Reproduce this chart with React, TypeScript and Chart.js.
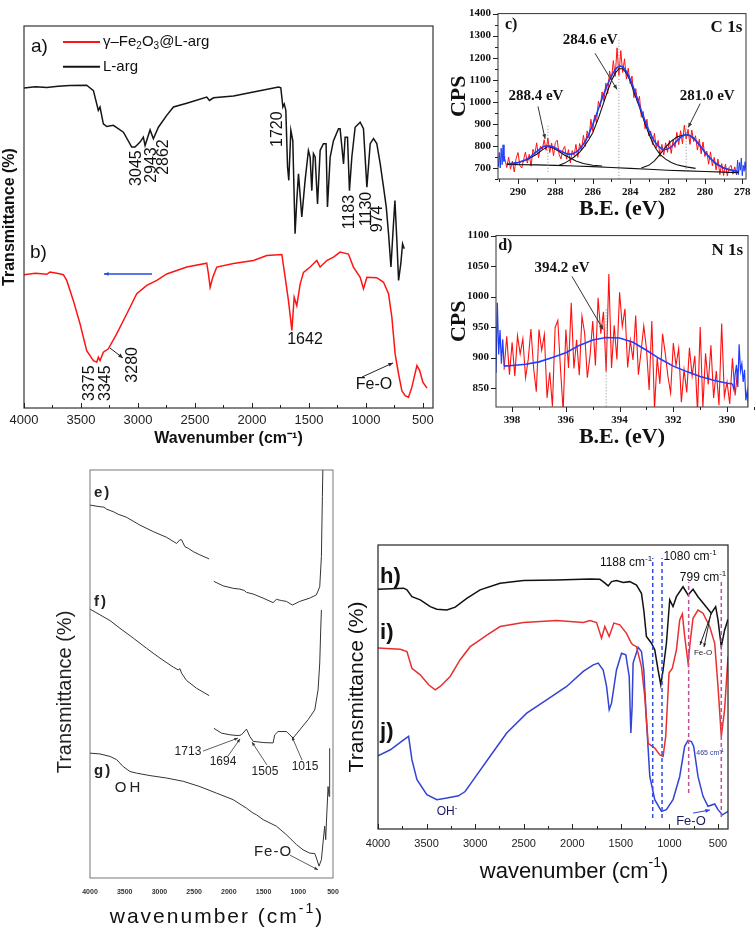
import React, { useEffect, useRef } from "react";
import { Chart, registerables } from "chart.js";
Chart.register(...registerables);

const SANS = 'Arial, "Liberation Sans", Helvetica, sans-serif';
const SERIF = '"Times New Roman", "Liberation Serif", Times, serif';

// ---------------- Panel a/b (FTIR) ----------------
const FTIR_TICKS = [500, 1000, 1500, 2000, 2500, 3000, 3500, 4000];
const FTIR_MINOR = [750, 1250, 1750, 2250, 2750, 3250, 3750];
const L_ARG = [
  [4000, 83.8], [3900, 84.1], [3800, 83.9], [3700, 84.2], [3600, 84.4], [3450, 84.5], [3391, 83.1], [3362, 79.6],
  [3348, 77.9], [3333, 78.8], [3304, 74.4], [3274, 73.7], [3216, 74.0], [3128, 72.2], [3055, 68.3], [3026, 68.3],
  [2982, 69.6], [2953, 70.9], [2938, 68.7], [2894, 72.8], [2865, 70.5], [2821, 73.5], [2748, 76.6], [2689, 78.8],
  [2572, 79.8], [2397, 81.4], [2373, 80.5], [2338, 81.2], [2162, 81.7], [1987, 82.7], [1767, 84.0], [1747, 83.8],
  [1729, 78.8], [1717, 79.6], [1703, 77.9], [1688, 63.1], [1677, 59.6], [1659, 72.7], [1642, 70.0], [1622, 45.6],
  [1607, 54.3], [1592, 61.3], [1563, 50.0], [1534, 59.6], [1505, 67.4], [1490, 65.7], [1475, 56.9], [1461, 66.6],
  [1446, 65.7], [1425, 53.4], [1402, 67.4], [1388, 68.3], [1373, 69.2], [1350, 69.2], [1338, 52.6], [1314, 65.7],
  [1285, 70.0], [1241, 73.1], [1227, 73.1], [1197, 63.9], [1183, 70.9], [1162, 70.9], [1145, 56.9], [1124, 65.7],
  [1095, 73.5], [1051, 74.8], [1022, 73.1], [992, 57.8], [963, 69.2], [934, 70.5], [905, 69.2], [875, 63.9],
  [846, 57.8], [822, 52.6], [802, 45.6], [781, 36.9], [764, 45.6], [746, 54.3], [729, 43.8], [714, 33.4],
  [694, 37.9], [679, 43.0], [664, 41.7],
];
const FE_L_ARG = [
  [4000, 34.9], [3900, 35.3], [3800, 35.0], [3772, 35.6], [3700, 35.2], [3655, 34.9], [3625, 33.4], [3567, 28.1],
  [3508, 22.0], [3450, 15.0], [3391, 12.4], [3362, 12.0], [3348, 13.3], [3333, 12.4], [3304, 14.6], [3260, 15.5],
  [3187, 19.4], [3099, 24.6], [3011, 29.9], [2923, 32.1], [2835, 33.4], [2748, 35.1], [2572, 36.9], [2397, 37.9],
  [2382, 35.1], [2367, 31.6], [2344, 34.2], [2309, 36.9], [2162, 37.8], [1987, 38.6], [1870, 39.9], [1738, 40.2],
  [1709, 34.2], [1680, 28.1], [1650, 20.3], [1630, 29.0], [1607, 26.8], [1577, 32.5], [1548, 35.5], [1490, 36.9],
  [1431, 38.6], [1402, 36.9], [1344, 38.6], [1285, 39.5], [1227, 40.8], [1154, 40.3], [1110, 36.9], [1051, 34.2],
  [1022, 31.2], [992, 34.2], [905, 34.1], [846, 32.9], [802, 29.9], [773, 23.8], [744, 14.1], [714, 8.9],
  [685, 4.5], [656, 3.2], [627, 2.8], [598, 5.4], [553, 11.1], [529, 9.8], [500, 6.7], [465, 5.2],
];

// ---------------- Panel c (C 1s) ----------------
const C1S_X_TICKS = [278, 280, 282, 284, 286, 288, 290];
const C1S_X_MINOR = [279, 281, 283, 285, 287, 289, 291];
const C1S_Y_TICKS = [700, 800, 900, 1000, 1100, 1200, 1300, 1400];
const C1S_Y_MINOR = [650, 750, 850, 950, 1050, 1150, 1250, 1350];
const C1S_RED_START = 290.7;
const C1S_STEP = -0.1;
const C1S_RED = [
  740, 702,
  749, 695, 731, 682, 743, 770, 712, 700, 738, 772,
  722, 762, 708, 785, 762, 814, 746, 798, 784, 828,
  780, 836, 770, 813, 755, 816, 826, 761, 741, 782,
  798, 740, 783, 723, 779, 757, 807, 748, 811, 781,
  848, 797, 868, 836, 921, 867, 940, 903, 1002, 976,
  1045, 1003, 1085, 1036, 1140, 1097, 1187, 1115, 1245, 1120,
  1232, 1133, 1195, 1103, 1152, 1083, 1117, 1019, 1060, 995,
  1025, 930, 956, 878, 921, 846, 868, 806, 857, 790,
  825, 752, 807, 759, 814, 771, 825, 766, 829, 793,
  862, 806, 869, 810, 894, 831, 875, 807, 872, 820,
  846, 781, 830, 764, 818, 752, 777, 717, 773, 710,
  748, 691, 740, 670, 720, 666, 718, 665, 703,
  712, 672, 705, 668,
];
const C1S_FIT_START = 290.5;
const C1S_FIT = [
  719, 720, 721, 722, 723, 725,
  727, 730, 733, 737, 742, 747, 753, 760, 767, 774,
  781, 788, 794, 798, 800, 801, 800, 798, 795, 791,
  786, 781, 776, 772, 768, 765, 763, 763, 764, 767,
  772, 778, 786, 796, 808, 822, 838, 856, 876, 897,
  920, 943, 967, 991, 1015, 1038, 1060, 1081, 1100, 1117,
  1132, 1145, 1155, 1160, 1162, 1158, 1150, 1138, 1122, 1103,
  1082, 1059, 1035, 1010, 985, 960, 936, 913, 891, 871,
  853, 836, 822, 810, 800, 792, 787, 784, 784, 786,
  790, 796, 804, 813, 822, 831, 839, 845, 849, 851,
  850, 847, 842, 835, 826, 816, 805, 794, 783, 772,
  762, 752, 743, 735, 728, 721, 715, 710, 705, 701,
  698, 695, 693, 691, 689, 687, 685, 684,
];
const C1S_BLUE_L_START = 291.05;
const C1S_BLUE_R_START = 278.3;
const C1S_EDGE_STEP = -0.05;
const C1S_BLUE_L = [705, 770, 700, 790, 715, 805, 730, 752];
const C1S_BLUE_R = [668, 735, 670, 725, 690, 745, 665, 712, 685, 728, 690];
const C1S_PEAK1 = [
  [290.6, 718], [290, 724], [289.5, 738], [289, 762], [288.7, 782], [288.4, 797], [288.1, 790], [287.8, 775],
  [287.5, 758], [287.2, 745], [286.9, 732], [286.5, 720], [286, 712], [285.5, 709],
];
const C1S_PEAK2 = [
  [287.8, 712], [287.5, 722], [287.2, 738], [287, 750], [286.7, 772], [286.5, 792], [286.2, 830], [286, 860],
  [285.7, 925], [285.5, 975], [285.2, 1050], [285, 1095], [284.8, 1130], [284.6, 1150], [284.4, 1150], [284.2, 1130],
  [284, 1095], [283.8, 1045], [283.5, 975], [283.2, 900], [283, 855], [282.8, 815], [282.6, 785], [282.4, 762],
  [282.1, 740], [281.8, 725], [281.5, 715], [281, 705], [280.5, 698],
];
const C1S_PEAK3 = [
  [283.4, 700], [283, 712], [282.7, 732], [282.4, 762], [282.1, 795], [281.8, 822], [281.5, 840], [281.2, 848],
  [281, 850], [280.8, 846], [280.5, 826], [280.2, 795], [280, 772], [279.7, 742], [279.4, 718], [279, 700],
  [278.6, 690], [278.2, 684],
];
const C1S_BASE = [
  [290.6, 716], [289, 714], [288, 712], [287, 709], [286, 706], [285, 702], [284, 698], [283, 694],
  [282, 690], [281, 687], [280, 684], [279, 681], [278.2, 679],
];

// ---------------- Panel d (N 1s) ----------------
const N1S_X_TICKS = [390, 392, 394, 396, 398];
const N1S_X_MINOR = [389, 391, 393, 395, 397];
const N1S_Y_TICKS = [850, 900, 950, 1000, 1050, 1100];
const N1S_RED_START = 398.3;
const N1S_STEP = -0.1;
const N1S_RED = [
  880, 935, 872, 925, 870,
  936, 906, 931, 867, 897, 947, 883, 844, 946, 912,
  938, 834, 876, 820, 949, 961, 882, 812, 946, 883,
  990, 882, 929, 871, 968, 940, 867, 903, 960, 887,
  998, 939, 975, 877, 1037, 883, 953, 897, 1007, 951,
  980, 884, 928, 896, 969, 872, 910, 952, 915, 847,
  960, 816, 900, 857, 939, 907, 869, 842, 924, 887,
  915, 827, 880, 843, 916, 870, 903, 811, 950, 818,
  907, 856, 920, 834, 878, 822, 956, 836, 860, 824,
  899, 838, 882,
];
const N1S_FIT = [
  [398.3, 886], [398, 887], [397.5, 889], [397, 893], [396.5, 900], [396, 908], [395.5, 920], [395, 929],
  [394.5, 933], [394, 932], [393.5, 925], [393, 912], [392.5, 898], [392, 886], [391.5, 877], [391, 869],
  [390.5, 863], [390, 858], [389.8, 857],
];
const N1S_BLUE_L_START = 398.6;
const N1S_BLUE_R_START = 389.8;
const N1S_EDGE_STEP = -0.05;
const N1S_BLUE_L = [875, 990, 905, 945, 890, 930, 886];
const N1S_BLUE_R = [857, 848, 872, 888, 852, 922, 878, 890, 860, 880, 830, 845, 815];

// ---------------- Panel e/f/g ----------------
const E_LEFT = [
  [4000, 91.4], [3856, 91.0], [3800, 90.9], [3760, 90.4], [3700, 90.0], [3664, 89.8], [3600, 89.2], [3568, 89.0],
  [3473, 88.4], [3281, 86.5], [3089, 84.9], [2897, 83.5], [2753, 82.0], [2705, 82.9], [2681, 82.9], [2633, 81.2],
  [2585, 80.8], [2513, 80.0], [2417, 79.2], [2283, 78.2],
];
const E_RIGHT = [
  [2216, 72.7], [2082, 71.6], [1938, 71.0], [1842, 70.8], [1780, 70.5], [1746, 70.0], [1650, 69.6], [1507, 68.6],
  [1363, 67.5], [1315, 68.3], [1243, 68.0], [1171, 67.8], [1085, 66.9], [979, 67.8], [835, 68.6], [739, 69.4],
  [691, 71.4], [667, 78.8], [653, 93.5], [644, 102],
];
const F_LEFT = [
  [4000, 65.9], [3856, 64.5], [3712, 63.1], [3568, 61.2], [3377, 58.8], [3185, 56.3], [2993, 53.9], [2801, 51.7],
  [2729, 51.0], [2705, 51.3], [2681, 50.2], [2609, 48.4], [2465, 46.5], [2283, 44.7],
];
const F_RIGHT = [
  [2216, 36.7], [2106, 35.5], [1986, 35.1], [1866, 34.9], [1818, 35.1], [1746, 36.5], [1698, 34.7], [1650, 33.5],
  [1507, 33.2], [1363, 33.1], [1339, 35.1], [1291, 35.9], [1171, 35.9], [1075, 34.3], [979, 36.3], [859, 38.8],
  [763, 41.2], [715, 46.1], [691, 52.7], [677, 60.8], [667, 65.7],
];
const G_CURVE = [
  [4000, 30.6], [3856, 30.4], [3712, 29.8], [3616, 29.0], [3521, 27.3], [3425, 26.1], [3329, 25.7], [3137, 25.1],
  [2897, 24.5], [2657, 23.7], [2417, 22.4], [2178, 20.8], [1938, 19.2], [1746, 17.1], [1650, 15.9], [1602, 15.5],
  [1507, 14.3], [1315, 12.7], [1171, 10.6], [1027, 8.2], [931, 6.9], [835, 6.1], [763, 6.0], [739, 4.9],
  [701, 2.9], [667, 4.5], [644, 8.6], [620, 12.7], [605, 9.4], [595, 13.5], [571, 22.4], [557, 20.0], [548, 31.8],
];

// ---------------- Panel h/i/j ----------------
const H_CURVE = [
  [4000, 84.4], [3736, 84.8], [3702, 84.2], [3651, 81.8], [3565, 80.7], [3462, 78.3], [3394, 77.4], [3291, 77.1],
  [3205, 78.1], [3086, 81.2], [2949, 84.2], [2743, 86.5], [2503, 87.5], [2161, 87.7], [1818, 88.0], [1716, 87.9],
  [1682, 87.1], [1630, 85.6], [1596, 87.1], [1545, 87.5], [1476, 86.8], [1408, 87.1], [1339, 85.9], [1288, 83.0],
  [1264, 77.1], [1237, 67.8], [1185, 65.4], [1151, 63.1], [1117, 56.0], [1089, 50.8], [1065, 56.0], [1031, 65.4],
  [997, 80.7], [963, 78.3], [928, 81.8], [860, 85.3], [808, 82.4], [757, 84.4], [706, 81.8], [637, 78.9],
  [569, 76.0], [524, 78.3], [500, 73.6], [466, 64.2], [432, 70.0], [397, 73.9],
];
const I_CURVE = [
  [4000, 63.7], [3771, 63.3], [3702, 62.5], [3651, 56.6], [3565, 54.3], [3479, 50.8], [3411, 49.0], [3360, 50.2],
  [3257, 53.7], [3154, 59.6], [3051, 64.2], [2949, 66.6], [2880, 68.3], [2743, 71.3], [2503, 72.7], [2161, 73.4],
  [1887, 72.7], [1818, 73.4], [1750, 72.7], [1699, 67.2], [1665, 71.3], [1620, 67.8], [1572, 72.5], [1510, 71.9],
  [1442, 68.9], [1391, 65.4], [1374, 64.8], [1339, 64.2], [1288, 57.2], [1254, 46.7], [1219, 30.2], [1151, 28.5],
  [1099, 26.1], [1065, 25.6], [1038, 32.6], [1004, 54.9], [970, 56.6], [928, 63.1], [894, 73.6], [867, 75.7],
  [843, 67.8], [808, 58.4], [784, 66.6], [757, 74.2], [706, 77.1], [654, 76.0], [586, 71.3], [534, 65.4],
  [500, 50.2], [466, 32.6], [432, 42.0], [397, 60.7],
];
const J_CURVE = [
  [4000, 25.8], [3873, 27.9], [3736, 31.4], [3685, 32.6], [3651, 24.4], [3599, 17.4], [3497, 12.1], [3394, 10.3],
  [3291, 10.9], [3171, 11.7], [3103, 13.2], [3017, 17.4], [2846, 25.6], [2675, 33.8], [2469, 40.8], [2264, 45.5],
  [2058, 50.2], [1887, 55.5], [1784, 57.8], [1733, 58.4], [1682, 56.0], [1647, 50.2], [1620, 42.0], [1596, 44.3],
  [1545, 56.0], [1493, 61.9], [1449, 61.3], [1414, 53.7], [1397, 33.8], [1384, 43.1], [1374, 58.4], [1322, 64.0],
  [1288, 62.5], [1264, 56.0], [1237, 38.5], [1202, 18.5], [1151, 10.3], [1082, 6.2], [1031, 6.8], [963, 10.3],
  [894, 18.5], [843, 29.1], [808, 31.2], [774, 30.8], [750, 29.1], [706, 18.5], [654, 11.5], [603, 8.0],
  [534, 8.8], [500, 6.8], [455, 5.0], [397, 6.2],
];
const H_MARK_BLUE = [1172, 1076];
const H_MARK_PINK = [802, 466];

// ---------------- helpers ----------------
const xy = (pairs: number[][]) => pairs.map(([x, y]) => ({ x, y }));
const grid = (start: number, step: number, vals: number[]) =>
  vals.map((y, i) => ({ x: Math.round((start + i * step) * 1000) / 1000, y }));
const line = (data: any[], color: string, width: number) => ({
  data, borderColor: color, borderWidth: width, pointRadius: 0, fill: false, tension: 0,
});

type Txt = {
  t: string; x: number; y: number; size: number; weight?: string; family?: string; color?: string;
  align?: "left" | "center" | "right"; rot?: number; ls?: number; px?: boolean;
};
type Spec = {
  frame?: { color: string; width: number };
  ticks?: { axis: "x" | "y"; values: number[]; len: number; dir: "in" | "out"; color?: string; width?: number }[];
  vlines?: { x: number; y1: number; y2: number; color: string; dash: number[]; width: number }[];
  segs?: { x1: number; y1: number; x2: number; y2: number; color: string; width: number }[];
  arrows?: { x1: number; y1: number; x2: number; y2: number; color?: string; width?: number; head?: number }[];
  texts?: Txt[];
};

function drawRich(ctx: CanvasRenderingContext2D, tx: Txt, x: number, y: number) {
  const parts: { t: string; k: number; w: number }[] = [];
  const re = /([_^])\{([^}]*)\}/g;
  let last = 0;
  let m: RegExpExecArray | null;
  while ((m = re.exec(tx.t))) {
    if (m.index > last) parts.push({ t: tx.t.slice(last, m.index), k: 0, w: 0 });
    parts.push({ t: m[2], k: m[1] === "_" ? 1 : 2, w: 0 });
    last = re.lastIndex;
  }
  if (last < tx.t.length) parts.push({ t: tx.t.slice(last), k: 0, w: 0 });
  const size = tx.size;
  const fnt = (k: number) =>
    `${tx.weight || "normal"} ${k ? Math.round(size * 0.65) : size}px ${tx.family || SANS}`;
  ctx.save();
  ctx.translate(x, y);
  if (tx.rot) ctx.rotate((tx.rot * Math.PI) / 180);
  (ctx as any).letterSpacing = tx.ls ? `${tx.ls}px` : "0px";
  let w = 0;
  for (const p of parts) {
    ctx.font = fnt(p.k);
    p.w = ctx.measureText(p.t).width;
    w += p.w;
  }
  const al = tx.align || "center";
  let cx = al === "center" ? -w / 2 : al === "right" ? -w : 0;
  ctx.fillStyle = tx.color || "#111";
  ctx.textBaseline = "middle";
  ctx.textAlign = "left";
  for (const p of parts) {
    ctx.font = fnt(p.k);
    const dy = p.k === 1 ? size * 0.3 : p.k === 2 ? -size * 0.38 : 0;
    ctx.fillText(p.t, cx, dy);
    cx += p.w;
  }
  ctx.restore();
}

function makeAnnot(spec: Spec) {
  return {
    id: "annot",
    afterDatasetsDraw(chart: any) {
      const ctx: CanvasRenderingContext2D = chart.ctx;
      const ca = chart.chartArea;
      const xs = chart.scales.x;
      const ys = chart.scales.y;
      const P = (x: number, y: number, px?: boolean): [number, number] =>
        px ? [x, y] : [xs.getPixelForValue(x), ys.getPixelForValue(y)];
      ctx.save();
      for (const v of spec.vlines || []) {
        const [x1, y1] = P(v.x, v.y1);
        const [, y2] = P(v.x, v.y2);
        ctx.beginPath();
        ctx.setLineDash(v.dash);
        ctx.strokeStyle = v.color;
        ctx.lineWidth = v.width;
        ctx.moveTo(x1, y1);
        ctx.lineTo(x1, y2);
        ctx.stroke();
      }
      ctx.setLineDash([]);
      if (spec.frame) {
        ctx.strokeStyle = spec.frame.color;
        ctx.lineWidth = spec.frame.width;
        ctx.strokeRect(ca.left, ca.top, ca.right - ca.left, ca.bottom - ca.top);
      }
      for (const t of spec.ticks || []) {
        ctx.strokeStyle = t.color || "#222";
        ctx.lineWidth = t.width || 1;
        for (const v of t.values) {
          ctx.beginPath();
          if (t.axis === "x") {
            const p = Math.round(xs.getPixelForValue(v)) + 0.5;
            const s = t.dir === "in" ? -1 : 1;
            ctx.moveTo(p, ca.bottom);
            ctx.lineTo(p, ca.bottom + s * t.len);
          } else {
            const p = Math.round(ys.getPixelForValue(v)) + 0.5;
            const s = t.dir === "in" ? 1 : -1;
            ctx.moveTo(ca.left, p);
            ctx.lineTo(ca.left + s * t.len, p);
          }
          ctx.stroke();
        }
      }
      for (const s of spec.segs || []) {
        const [x1, y1] = P(s.x1, s.y1);
        const [x2, y2] = P(s.x2, s.y2);
        ctx.beginPath();
        ctx.strokeStyle = s.color;
        ctx.lineWidth = s.width;
        ctx.moveTo(x1, y1);
        ctx.lineTo(x2, y2);
        ctx.stroke();
      }
      for (const a of spec.arrows || []) {
        const [x1, y1] = P(a.x1, a.y1);
        const [x2, y2] = P(a.x2, a.y2);
        const col = a.color || "#222";
        ctx.beginPath();
        ctx.strokeStyle = col;
        ctx.lineWidth = a.width || 1;
        ctx.moveTo(x1, y1);
        ctx.lineTo(x2, y2);
        ctx.stroke();
        const ang = Math.atan2(y2 - y1, x2 - x1);
        const h = a.head || 5;
        ctx.beginPath();
        ctx.fillStyle = col;
        ctx.moveTo(x2, y2);
        ctx.lineTo(x2 - h * Math.cos(ang - 0.4), y2 - h * Math.sin(ang - 0.4));
        ctx.lineTo(x2 - h * Math.cos(ang + 0.4), y2 - h * Math.sin(ang + 0.4));
        ctx.closePath();
        ctx.fill();
      }
      for (const tx of spec.texts || []) {
        const [x, y] = P(tx.x, tx.y, tx.px);
        drawRich(ctx, tx, x, y);
      }
      ctx.restore();
    },
  };
}

function xAxis(o: any) {
  return {
    type: "linear",
    reverse: true,
    min: o.min,
    max: o.max,
    afterBuildTicks: (s: any) => {
      s.ticks = o.ticks.map((v: number) => ({ value: v }));
    },
    afterFit: (s: any) => {
      s.height = o.h;
    },
    grid: { display: false, drawTicks: false },
    border: { display: false },
    ticks: {
      font: o.font, color: o.color || "#222", padding: o.pad, autoSkip: false,
      maxRotation: 0, minRotation: 0, callback: (v: any) => String(v),
    },
    title: o.title ? { display: true, padding: 0, ...o.title } : { display: false },
  };
}

function yAxis(o: any) {
  return {
    type: "linear",
    min: o.min,
    max: o.max,
    afterBuildTicks: (s: any) => {
      s.ticks = (o.ticks || []).map((v: number) => ({ value: v }));
    },
    afterFit: (s: any) => {
      s.width = o.w;
    },
    grid: { display: false, drawTicks: false },
    border: { display: false },
    ticks: o.ticks
      ? { font: o.font, color: o.color || "#222", padding: o.pad, autoSkip: false, callback: (v: any) => String(v) }
      : { display: false },
    title: o.title ? { display: true, padding: 0, ...o.title } : { display: false },
  };
}

function baseCfg(datasets: any[], scales: any, padding: any, spec: Spec) {
  return {
    type: "line",
    data: { datasets },
    options: {
      responsive: false,
      animation: false,
      devicePixelRatio: 1,
      events: [],
      layout: { padding },
      plugins: { legend: { display: false }, tooltip: { enabled: false }, title: { display: false } },
      scales,
    },
    plugins: [makeAnnot(spec)],
  } as any;
}

// ---------------- configs ----------------
const RED_A = "#ff1414";
const BLK = "#151515";

function cfgA() {
  const spec: Spec = {
    frame: { color: "#333", width: 1.2 },
    ticks: [
      { axis: "x", values: FTIR_TICKS, len: 5, dir: "in" },
      { axis: "x", values: FTIR_MINOR, len: 3, dir: "in" },
    ],
    segs: [
      { x1: 3658, y1: 95.8, x2: 3333, y2: 95.8, color: RED_A, width: 2 },
      { x1: 3658, y1: 89.3, x2: 3333, y2: 89.3, color: BLK, width: 2 },
    ],
    arrows: [
      { x1: 3246, y1: 15.7, x2: 3132, y2: 13.1 },
      { x1: 1035, y1: 8.1, x2: 763, y2: 11.8 },
      { x1: 2877, y1: 35.1, x2: 3298, y2: 35.1, color: "#2a4bd7", width: 1.5 },
    ],
    texts: [
      { t: "a)", x: 3939, y: 94.5, size: 19, align: "left" },
      { t: "b)", x: 3947, y: 40.6, size: 19, align: "left" },
      { t: "γ–Fe_{2}O_{3}@L-arg", x: 3307, y: 95.8, size: 15, align: "left" },
      { t: "L-arg", x: 3307, y: 89.3, size: 15, align: "left" },
      { t: "3045", x: 3009, y: 62.8, size: 16, rot: -90 },
      { t: "2943", x: 2877, y: 63.6, size: 16, rot: -90 },
      { t: "2862", x: 2772, y: 65.7, size: 16, rot: -90 },
      { t: "1720", x: 1772, y: 73.0, size: 16, rot: -90 },
      { t: "1183", x: 1140, y: 51.3, size: 16, rot: -90 },
      { t: "1130", x: 991, y: 52.1, size: 16, rot: -90 },
      { t: "974", x: 895, y: 49.5, size: 16, rot: -90 },
      { t: "3375", x: 3421, y: 6.5, size: 16, rot: -90 },
      { t: "3345", x: 3281, y: 6.5, size: 16, rot: -90 },
      { t: "3280", x: 3044, y: 11.3, size: 16, rot: -90 },
      { t: "1642", x: 1535, y: 17.8, size: 16 },
      { t: "Fe-O", x: 930, y: 6.0, size: 16 },
    ],
  };
  return baseCfg(
    [line(xy(L_ARG), BLK, 1.5), line(xy(FE_L_ARG), RED_A, 1.5)],
    {
      x: xAxis({
        min: 412, max: 4000, ticks: FTIR_TICKS, h: 40, pad: 5, font: { size: 13, family: SANS },
        title: { text: "Wavenumber (cm⁻¹)", color: "#111", font: { size: 16, weight: "bold", family: SANS } },
      }),
      y: yAxis({
        min: 0, max: 100, w: 24,
        title: { text: "Transmittance (%)", color: "#111", font: { size: 16, weight: "bold", family: SANS } },
      }),
    },
    { top: 26, right: 7, left: 0, bottom: 0 },
    spec
  );
}

const XPS_RED = "#ff1010";
const XPS_BLUE = "#1f3cff";

function cfgC() {
  const spec: Spec = {
    frame: { color: "#333", width: 1 },
    ticks: [
      { axis: "x", values: C1S_X_TICKS, len: 5, dir: "out" },
      { axis: "x", values: C1S_X_MINOR, len: 3, dir: "out" },
      { axis: "y", values: C1S_Y_TICKS, len: 5, dir: "out" },
      { axis: "y", values: C1S_Y_MINOR, len: 3, dir: "out" },
    ],
    vlines: [
      { x: 288.4, y1: 683, y2: 891, color: "#888", dash: [1, 2], width: 1 },
      { x: 284.6, y1: 651, y2: 1284, color: "#888", dash: [1, 2], width: 1 },
      { x: 281.0, y1: 683, y2: 891, color: "#888", dash: [1, 2], width: 1 },
    ],
    arrows: [
      { x1: 285.88, y1: 1220, x2: 284.7, y2: 1056, color: "#333" },
      { x1: 288.93, y1: 979, x2: 288.55, y2: 832, color: "#333" },
      { x1: 280.25, y1: 992, x2: 280.89, y2: 884, color: "#333" },
    ],
    texts: [
      { t: "c)", x: 290.7, y: 1350, size: 16, weight: "bold", family: SERIF, align: "left" },
      { t: "C 1s", x: 278.0, y: 1337, size: 17, weight: "bold", family: SERIF, align: "right" },
      { t: "284.6 eV", x: 286.14, y: 1281, size: 15, weight: "bold", family: SERIF },
      { t: "288.4 eV", x: 289.04, y: 1026, size: 15, weight: "bold", family: SERIF },
      { t: "281.0 eV", x: 279.88, y: 1026, size: 15, weight: "bold", family: SERIF },
    ],
  };
  return baseCfg(
    [
      line(grid(C1S_FIT_START, C1S_STEP, C1S_FIT), XPS_BLUE, 1.6),
      line(xy(C1S_PEAK1), "#111", 1.1),
      line(xy(C1S_PEAK2), "#111", 1.1),
      line(xy(C1S_PEAK3), "#111", 1.1),
      line(xy(C1S_BASE), "#111", 1.1),
      line(grid(C1S_BLUE_L_START, C1S_EDGE_STEP, C1S_BLUE_L), XPS_BLUE, 1),
      line(grid(C1S_BLUE_R_START, C1S_EDGE_STEP, C1S_BLUE_R), XPS_BLUE, 1),
      line(grid(C1S_RED_START, C1S_STEP, C1S_RED), XPS_RED, 1),
    ],
    {
      x: xAxis({
        min: 277.8, max: 291.07, ticks: C1S_X_TICKS, h: 44, pad: 7, color: "#111",
        font: { size: 11, weight: "bold", family: SERIF },
        title: { text: "B.E. (eV)", color: "#111", font: { size: 22, weight: "bold", family: SERIF } },
      }),
      y: yAxis({
        min: 650, max: 1400, w: 52, ticks: C1S_Y_TICKS, pad: 7, color: "#111",
        font: { size: 11, weight: "bold", family: SERIF },
        title: { text: "CPS", color: "#111", font: { size: 22, weight: "bold", family: SERIF } },
      }),
    },
    { top: 5, right: 10, left: 0, bottom: 0 },
    spec
  );
}

function cfgD() {
  const spec: Spec = {
    frame: { color: "#333", width: 1 },
    ticks: [
      { axis: "x", values: N1S_X_TICKS, len: 5, dir: "out" },
      { axis: "x", values: N1S_X_MINOR, len: 3, dir: "out" },
      { axis: "y", values: N1S_Y_TICKS, len: 5, dir: "out" },
    ],
    vlines: [{ x: 394.5, y1: 820, y2: 980, color: "#888", dash: [1, 2], width: 1 }],
    arrows: [{ x1: 395.77, y1: 1033, x2: 394.61, y2: 946, color: "#333" }],
    texts: [
      { t: "d)", x: 398.52, y: 1083, size: 16, weight: "bold", family: SERIF, align: "left" },
      { t: "N 1s", x: 389.4, y: 1075, size: 17, weight: "bold", family: SERIF, align: "right" },
      { t: "394.2 eV", x: 396.14, y: 1047, size: 15, weight: "bold", family: SERIF },
    ],
  };
  return baseCfg(
    [
      line(xy(N1S_FIT), XPS_BLUE, 1.6),
      line(grid(N1S_BLUE_L_START, N1S_EDGE_STEP, N1S_BLUE_L), XPS_BLUE, 1.2),
      line(grid(N1S_BLUE_R_START, N1S_EDGE_STEP, N1S_BLUE_R), XPS_BLUE, 1.2),
      line(grid(N1S_RED_START, N1S_STEP, N1S_RED), XPS_RED, 1.1),
    ],
    {
      x: xAxis({
        min: 389.22, max: 398.6, ticks: N1S_X_TICKS, h: 44, pad: 7, color: "#111",
        font: { size: 11, weight: "bold", family: SERIF },
        title: { text: "B.E. (eV)", color: "#111", font: { size: 22, weight: "bold", family: SERIF } },
      }),
      y: yAxis({
        min: 819, max: 1100, w: 50, ticks: N1S_Y_TICKS, pad: 7, color: "#111",
        font: { size: 11, weight: "bold", family: SERIF },
        title: { text: "CPS", color: "#111", font: { size: 22, weight: "bold", family: SERIF } },
      }),
    },
    { top: 4, right: 8, left: 0, bottom: 0 },
    spec
  );
}

function cfgE() {
  const spec: Spec = {
    frame: { color: "#555", width: 0.8 },
    arrows: [
      { x1: 1119, y1: 5.6, x2: 716, y2: 2.0, color: "#333", width: 0.8, head: 4 },
      { x1: 2372, y1: 31.1, x2: 1868, y2: 34.3, color: "#333", width: 0.8, head: 4 },
      { x1: 2012, y1: 29.9, x2: 1839, y2: 34.1, color: "#333", width: 0.8, head: 4 },
      { x1: 1451, y1: 27.7, x2: 1667, y2: 33.3, color: "#333", width: 0.8, head: 4 },
      { x1: 946, y1: 28.9, x2: 1090, y2: 34.6, color: "#333", width: 0.8, head: 4 },
    ],
    texts: [
      { t: "e)", x: 3942, y: 94.4, size: 15, weight: "bold", align: "left", ls: 2, color: "#222" },
      { t: "f)", x: 3942, y: 67.6, size: 15, weight: "bold", align: "left", ls: 2, color: "#222" },
      { t: "g)", x: 3942, y: 26.2, size: 15, weight: "bold", align: "left", ls: 2, color: "#222" },
      { t: "OH", x: 3438, y: 22.1, size: 15, ls: 3, color: "#222" },
      { t: "Fe-O", x: 1364, y: 6.4, size: 15, ls: 1, color: "#222" },
      { t: "1713", x: 2589, y: 30.9, size: 12, color: "#222" },
      { t: "1694", x: 2084, y: 28.4, size: 12, color: "#222" },
      { t: "1505", x: 1480, y: 26.0, size: 12, color: "#222" },
      { t: "1015", x: 903, y: 27.2, size: 12, color: "#222" },
      { t: "Transmittance (%)", x: 12, y: 232, size: 20, rot: -90, px: true, color: "#222" },
      { t: "wavenumber (cm^{-1})", x: 164, y: 457, size: 21, ls: 2, px: true, color: "#111" },
    ],
  };
  const c = "#333";
  return baseCfg(
    [
      line(xy(E_LEFT), c, 1),
      line(xy(E_RIGHT), c, 1),
      line(xy(F_LEFT), c, 1),
      line(xy(F_RIGHT), c, 1),
      line(xy(G_CURVE), c, 1),
    ],
    {
      x: xAxis({
        min: 500, max: 4000, ticks: FTIR_TICKS, h: 50, pad: 10, color: "#333",
        font: { size: 7, weight: "bold", family: SANS },
      }),
      y: yAxis({ min: 0, max: 100, w: 37 }),
    },
    { top: 10, right: 7, left: 0, bottom: 0 },
    spec
  );
}

const H_RED = "#e8312f";
const H_BLUE = "#3343d4";

function cfgH() {
  const spec: Spec = {
    frame: { color: "#222", width: 1.2 },
    ticks: [
      { axis: "x", values: FTIR_TICKS, len: 5, dir: "in" },
      { axis: "x", values: FTIR_MINOR, len: 3, dir: "in" },
    ],
    vlines: [
      { x: H_MARK_BLUE[0], y1: 3.9, y2: 95.4, color: "#2f4fe0", dash: [4, 3], width: 1.5 },
      { x: H_MARK_BLUE[1], y1: 3.9, y2: 95.4, color: "#2f4fe0", dash: [4, 3], width: 1.5 },
      { x: H_MARK_PINK[0], y1: 12.7, y2: 87, color: "#c0509a", dash: [4, 3], width: 1.5 },
      { x: H_MARK_PINK[1], y1: 4.2, y2: 87, color: "#c0509a", dash: [4, 3], width: 1.5 },
    ],
    arrows: [
      { x1: 562, y1: 76.4, x2: 685, y2: 64.8, color: "#222", head: 4 },
      { x1: 572, y1: 76.1, x2: 644, y2: 64.1, color: "#222", head: 4 },
      { x1: 757, y1: 5.6, x2: 582, y2: 6.7, color: "#2f3fd6", head: 5 },
    ],
    texts: [
      { t: "h)", x: 3979, y: 88.7, size: 22, weight: "bold", align: "left" },
      { t: "i)", x: 3979, y: 69.0, size: 22, weight: "bold", align: "left" },
      { t: "j)", x: 3979, y: 34.2, size: 22, weight: "bold", align: "left" },
      { t: "1188 cm^{-1}", x: 1447, y: 93.7, size: 12 },
      { t: "1080 cm^{-1}", x: 788, y: 95.8, size: 12 },
      { t: "799 cm^{-1}", x: 654, y: 88.4, size: 12 },
      { t: "465 cm^{-1}", x: 582, y: 26.8, size: 7, color: "#2a3a9a" },
      { t: "Fe-O", x: 654, y: 62.0, size: 8, color: "#222" },
      { t: "Fe-O", x: 778, y: 2.5, size: 13, color: "#1a1a60" },
      { t: "OH^{-}", x: 3290, y: 6.0, size: 12, color: "#1a1a60" },
      { t: "wavenumber (cm^{-1})", x: 229, y: 342, size: 22, px: true, color: "#111" },
    ],
  };
  return baseCfg(
    [line(xy(H_CURVE), "#111", 1.5), line(xy(I_CURVE), H_RED, 1.5), line(xy(J_CURVE), H_BLUE, 1.5)],
    {
      x: xAxis({
        min: 397, max: 4000, ticks: FTIR_TICKS, h: 56, pad: 8, color: "#222",
        font: { size: 11, family: SANS },
      }),
      y: yAxis({
        min: 0, max: 100, w: 33,
        title: { text: "Transmittance (%)", color: "#111", font: { size: 21, family: SANS } },
      }),
    },
    { top: 15, right: 22, left: 0, bottom: 0 },
    spec
  );
}

function ChartBox({ left, top, width, height, build }: any) {
  const ref = useRef<HTMLCanvasElement | null>(null);
  useEffect(() => {
    if (!ref.current) return;
    const chart = new Chart(ref.current, build());
    return () => chart.destroy();
  }, []);
  return (
    <div style={{ position: "absolute", left, top, width, height }}>
      <canvas ref={ref} width={width} height={height} style={{ width, height, display: "block" }} />
    </div>
  );
}

export default function App() {
  return (
    <div style={{ position: "absolute", left: 0, top: 0, width: 756, height: 928, background: "#fff", overflow: "hidden" }}>
      <ChartBox left={0} top={0} width={440} height={448} build={cfgA} />
      <ChartBox left={446} top={0} width={310} height={223} build={cfgC} />
      <ChartBox left={446} top={222} width={310} height={229} build={cfgD} />
      <ChartBox left={53} top={460} width={287} height={468} build={cfgE} />
      <ChartBox left={345} top={530} width={405} height={355} build={cfgH} />
    </div>
  );
}
